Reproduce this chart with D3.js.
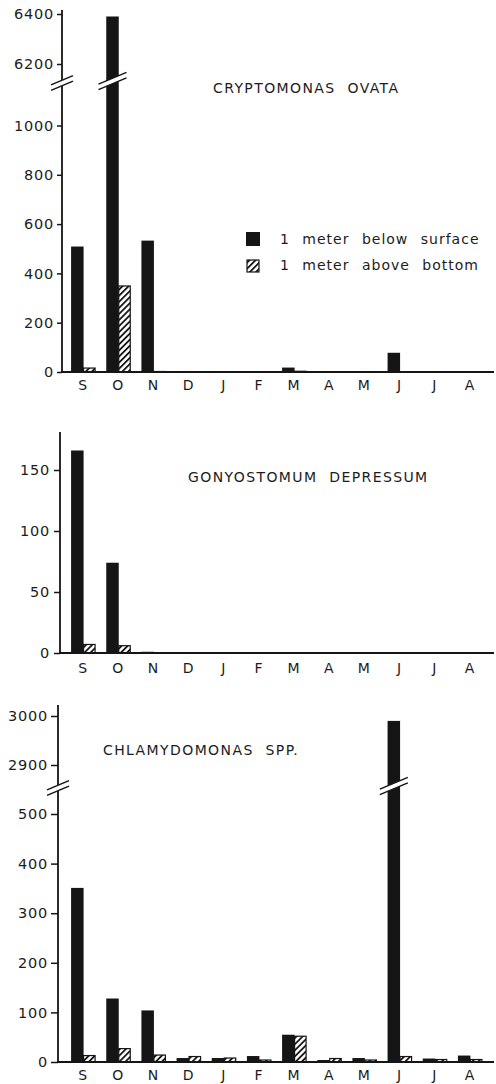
<!DOCTYPE html>
<html>
<head>
<meta charset="utf-8">
<script src="https://cdn.jsdelivr.net/npm/d3@7"></script>
<style>
    body { margin: 0; background: #fff; }
    svg text { font-family: "DejaVu Sans", sans-serif; fill: #1c1c1c; }
</style>
</head>
<body>
<svg id="mainFrame"></svg>
<script>
// months Sept -> Aug
const months = ['S', 'O', 'N', 'D', 'J', 'F', 'M', 'A', 'M', 'J', 'J', 'A'];
const seriesNames = ['1 meter below surface', '1 meter above bottom'];

const cryptoTitle = 'CRYPTOMONAS OVATA';
const cryptoSurface = [509, 6390, 533, 1, 3, 2, 18, 1, 3, 78, 0, 2];
const cryptoBottom = [16, 349, 2, 0, 0, 0, 3, 0, 0, 0, 0, 0];
const cryptoTicks = [0, 200, 400, 600, 800, 1000, 6200, 6400];

const gonyoTitle = 'GONYOSTOMUM DEPRESSUM';
const gonyoSurface = [166, 74, 1, 0, 0, 0, 0, 0, 0, 0, 0, 0];
const gonyoBottom = [7, 6, 0, 0, 0, 0, 0, 0, 0, 0, 0, 0];
const gonyoTicks = [0, 50, 100, 150];

const chlamyTitle = 'CHLAMYDOMONAS SPP.';
const chlamySurface = [351, 128, 104, 8, 8, 12, 55, 4, 8, 2990, 7, 13];
const chlamyBottom = [13, 27, 14, 11, 8, 4, 52, 7, 4, 11, 5, 5];
const chlamyTicks = [0, 100, 200, 300, 400, 500, 2900, 3000];

const ink = '#151515';

const svg = d3.select('#mainFrame')
    .attr('width', 496)
    .attr('height', 1084);

// diagonal hatch for the bottom samples
const hatch = svg.append('defs').append('pattern')
    .attr('id', 'hatch')
    .attr('patternUnits', 'userSpaceOnUse')
    .attr('width', 4.3)
    .attr('height', 4.3)
    .attr('patternTransform', 'rotate(45)');
hatch.append('rect').attr('width', 4.3).attr('height', 4.3).attr('fill', '#fff');
hatch.append('rect').attr('width', 1.8).attr('height', 4.3).attr('fill', ink);

// layout of the three panels (positions only, values come from the arrays above)
const panels = [
    {
        title: cryptoTitle, surface: cryptoSurface, bottom: cryptoBottom, ticks: cryptoTicks,
        axisX: 62, top: 10, base: 372, lowDomain: [0, 1000], lowRange: [372, 125.5], lowMax: 1130,
        upDomain: [6200, 6400], upRange: [64, 14], breakY: 83,
        titleX: 213, titleY: 93, tickSize: 5, tickPad: 3, monthDy: 18, legend: true
    },
    {
        title: gonyoTitle, surface: gonyoSurface, bottom: gonyoBottom, ticks: gonyoTicks,
        axisX: 60, top: 432, base: 653, lowDomain: [0, 150], lowRange: [653, 470], lowMax: 200,
        titleX: 188, titleY: 482, tickSize: 6, tickPad: 4, monthDy: 20
    },
    {
        title: chlamyTitle, surface: chlamySurface, bottom: chlamyBottom, ticks: chlamyTicks,
        axisX: 58, top: 705, base: 1062, lowDomain: [0, 500], lowRange: [1062, 814], lowMax: 560,
        upDomain: [2900, 3000], upRange: [765, 716], breakY: 788,
        titleX: 103, titleY: 755, tickSize: 7, tickPad: 3, monthDy: 18
    }
];

// white gap with two parallel slashes, used on broken axes and bars
const drawBreak = (g, cx, cy, hw) => {
    const dy = 0.42 * hw, gap = 2.8;
    g.append('path')
        .attr('d', `M${cx - hw},${cy + dy - gap} L${cx + hw},${cy - dy - gap} L${cx + hw},${cy - dy + gap} L${cx - hw},${cy + dy + gap} Z`)
        .attr('fill', '#fff');
    [-gap, gap].forEach(o => {
        g.append('line')
            .attr('x1', cx - hw).attr('y1', cy + dy + o)
            .attr('x2', cx + hw).attr('y2', cy - dy + o)
            .attr('stroke', ink).attr('stroke-width', 1.5);
    });
};

const render = p => {
    const g = svg.append('g');

    const xScale = d3.scaleBand()
        .domain(d3.range(months.length))
        .range([65, 487]);

    const subScale = d3.scaleBand()
        .domain(['surface', 'bottom'])
        .range([-11.5, 13.5]);

    const lower = d3.scaleLinear().domain(p.lowDomain).range(p.lowRange);
    const upper = p.upDomain ? d3.scaleLinear().domain(p.upDomain).range(p.upRange) : null;
    const yScale = v => (upper && v > p.lowMax) ? upper(v) : lower(v);

    const center = i => xScale(i) + xScale.bandwidth() / 2;

    // bars
    const rows = months.map((m, i) => ({ i, surface: p.surface[i], bottom: p.bottom[i] }));

    g.selectAll('rect.surface').data(rows)
        .enter().append('rect')
            .attr('class', 'surface')
            .attr('x', d => center(d.i) + subScale('surface'))
            .attr('width', subScale.bandwidth())
            .attr('y', d => yScale(d.surface))
            .attr('height', d => p.base - yScale(d.surface))
            .attr('fill', ink);

    g.selectAll('rect.bottom').data(rows.filter(d => d.bottom > 0))
        .enter().append('rect')
            .attr('class', 'bottom')
            .attr('x', d => center(d.i) + subScale('bottom'))
            .attr('width', subScale.bandwidth() - 1)
            .attr('y', d => yScale(d.bottom))
            .attr('height', d => p.base - yScale(d.bottom))
            .attr('fill', 'url(#hatch)')
            .attr('stroke', ink)
            .attr('stroke-width', 1.2);

    // y axis (split into two scales when broken)
    const axisG = g.append('g').attr('transform', `translate(${p.axisX},0)`);
    const lowTicks = p.ticks.filter(t => t <= p.lowMax);
    const upTicks = p.ticks.filter(t => t > p.lowMax);
    const fmt = d3.format('d');

    axisG.append('g')
        .call(d3.axisLeft(lower).tickValues(lowTicks).tickFormat(fmt).tickSize(p.tickSize).tickPadding(p.tickPad))
        .select('.domain').remove();
    if (upper) {
        axisG.append('g')
            .call(d3.axisLeft(upper).tickValues(upTicks).tickFormat(fmt).tickSize(p.tickSize).tickPadding(p.tickPad))
            .select('.domain').remove();
    }
    axisG.selectAll('.tick line').attr('stroke', ink).attr('stroke-width', 1.5);
    axisG.selectAll('.tick text')
        .attr('font-size', 14.5)
        .attr('letter-spacing', 0.8)
        .attr('font-family', '"DejaVu Sans", sans-serif')
        .attr('fill', '#1c1c1c');

    axisG.append('line')
        .attr('x1', 0).attr('x2', 0)
        .attr('y1', p.top).attr('y2', p.base)
        .attr('stroke', ink).attr('stroke-width', 1.8);

    // baseline
    g.append('line')
        .attr('x1', p.axisX - 1).attr('x2', 494)
        .attr('y1', p.base).attr('y2', p.base)
        .attr('stroke', ink).attr('stroke-width', 2);

    // month labels
    g.selectAll('text.month').data(months)
        .enter().append('text')
            .attr('class', 'month')
            .attr('x', (d, i) => center(i))
            .attr('y', p.base + p.monthDy)
            .attr('text-anchor', 'middle')
            .attr('font-size', 14)
            .text(d => d);

    // breaks on axis and on the tall bars
    if (upper) {
        drawBreak(g, p.axisX, p.breakY, 11);
        rows.filter(d => d.surface > p.lowMax)
            .forEach(d => drawBreak(g, center(d.i) + subScale('surface') + subScale.bandwidth() / 2, p.breakY - 2, 14));
    }

    // title
    g.append('text')
        .attr('x', p.titleX)
        .attr('y', p.titleY)
        .attr('font-size', 14)
        .attr('letter-spacing', 1.4)
        .attr('word-spacing', 6)
        .text(p.title);

    if (p.legend) {
        const leg = g.append('g').attr('transform', 'translate(246,232)');
        seriesNames.forEach((name, k) => {
            leg.append('rect')
                .attr('x', k ? 1 : 0)
                .attr('y', k * 27 + (k ? 1 : 0))
                .attr('width', k ? 12 : 14)
                .attr('height', k ? 12 : 14)
                .attr('fill', k ? 'url(#hatch)' : ink)
                .attr('stroke', ink)
                .attr('stroke-width', k ? 1.2 : 0);
            leg.append('text')
                .attr('x', 34)
                .attr('y', k * 26 + 12)
                .attr('font-size', 14)
                .attr('letter-spacing', 1)
                .attr('word-spacing', 7)
                .text(name);
        });
    }
};

panels.forEach(render);
</script>
</body>
</html>
